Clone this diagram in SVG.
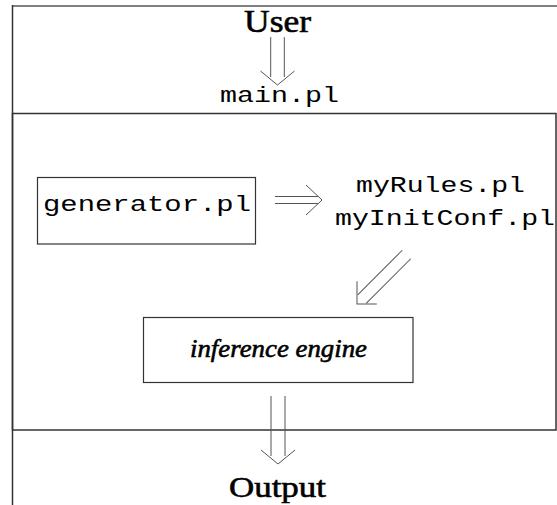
<svg xmlns="http://www.w3.org/2000/svg" width="557" height="505" viewBox="0 0 557 505">
  <defs>
    <style>
      .frame { fill: none; stroke: #333; stroke-width: 1.5; }
      .frame-top { fill: none; stroke: #808080; stroke-width: 2; }
      .box { fill: #fff; stroke: #333; stroke-width: 1.2; }
      .arrow { fill: none; stroke: #555; stroke-width: 1; }
      .mono { font-family: "Liberation Mono", "Courier New", monospace; font-size: 22px; fill: #000; }
      .serif { font-family: "Liberation Serif", "Times New Roman", serif; fill: #000; stroke: #000; stroke-width: 0.6; }
    </style>
  </defs>

  <!-- outer frame: top rule, left rule and the inner program box -->
  <g id="frame">
    <line class="frame-top" x1="12" y1="6" x2="557" y2="6"/>
    <line class="frame" x1="12.5" y1="5" x2="12.5" y2="505"/>
    <rect class="frame" x="12.5" y="113.5" width="543.5" height="316.5"/>
  </g>

  <!-- connectors: double-shafted open arrows, each drawn along +x with its tip at the origin -->
  <g id="connectors" class="arrow">
    <!-- User -> main.pl -->
    <g transform="translate(277.5,85) rotate(90)">
      <line x1="-48" y1="-6.8" x2="-8" y2="-6.8"/>
      <line x1="-48" y1="6.8" x2="-8" y2="6.8"/>
      <polyline points="-14,-17 0,0 -14,17"/>
    </g>
    <!-- generator.pl -> rule files -->
    <g transform="translate(322,200)">
      <line x1="-47" y1="-3.5" x2="-4" y2="-3.5"/>
      <line x1="-47" y1="3.5" x2="-4" y2="3.5"/>
      <polyline points="-16,-15 0,0 -16,15"/>
    </g>
    <!-- rule files -> inference engine -->
    <g transform="translate(357,304) rotate(135)">
      <line x1="-70" y1="-6" x2="-7" y2="-6"/>
      <line x1="-70" y1="6" x2="-7" y2="6"/>
      <polyline points="-14,-14 0,0 -16,16"/>
    </g>
    <!-- inference engine -> Output -->
    <g transform="translate(278,464) rotate(90)">
      <line x1="-68" y1="-7" x2="-8" y2="-7"/>
      <line x1="-68" y1="7" x2="-8" y2="7"/>
      <polyline points="-14,-17 0,0 -14,17"/>
    </g>
  </g>

  <!-- nodes -->
  <g id="user">
    <text class="serif" x="244" y="32" font-size="32" textLength="67" lengthAdjust="spacingAndGlyphs">User</text>
  </g>
  <g id="main">
    <text class="mono" x="220" y="102" textLength="119" lengthAdjust="spacingAndGlyphs">main.pl</text>
  </g>
  <g id="generator">
    <rect class="box" x="37.5" y="177.5" width="218" height="66.5"/>
    <text class="mono" x="43" y="211" textLength="208" lengthAdjust="spacingAndGlyphs">generator.pl</text>
  </g>
  <g id="rules">
    <text class="mono" x="356" y="192" textLength="169" lengthAdjust="spacingAndGlyphs">myRules.pl</text>
    <text class="mono" x="335" y="225" textLength="220" lengthAdjust="spacingAndGlyphs">myInitConf.pl</text>
  </g>
  <g id="engine">
    <rect class="box" x="143.5" y="317.5" width="269.5" height="65"/>
    <text class="serif" x="190" y="357" font-size="26" font-style="italic" textLength="177" lengthAdjust="spacingAndGlyphs">inference engine</text>
  </g>
  <g id="output">
    <text class="serif" x="229" y="497" font-size="30" textLength="97" lengthAdjust="spacingAndGlyphs">Output</text>
  </g>
</svg>
